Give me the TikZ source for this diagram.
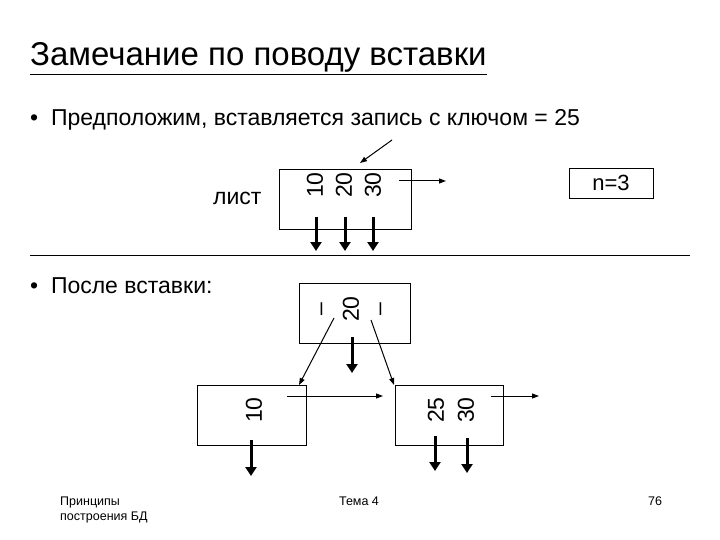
\documentclass[tikz,border=0pt]{standalone}
\usepackage{fontspec}
\setmainfont{Liberation Sans}
\usetikzlibrary{arrows.meta}
\begin{document}
\begin{tikzpicture}[x=1pt,y=-1pt,
  num/.style={rotate=90,font=\fontsize{23}{23}\selectfont,inner sep=0pt},
  thick arr/.style={line width=3pt,-{Triangle[length=9pt,width=11pt]}},
  thin arr/.style={line width=1pt,-{Triangle[length=7pt,width=5pt]}},
  lbl/.style={anchor=west,font=\fontsize{23}{23}\selectfont,inner sep=0pt}]
\useasboundingbox (0,0) rectangle (720,540);
\node[anchor=base west,inner sep=0pt,font=\fontsize{33}{33}\selectfont] (title) at (30,66) {\underline{Замечание по поводу вставки}};
\node[lbl] (b1) at (30,120) {•\ \ Предположим, вставляется запись с ключом = 25};
% top leaf
\draw[line width=0.8pt] (279,169) rectangle (411,229);
\node[lbl] (leaf) at (213,198) {лист};
\node[num] (t10) at (315,185) {10};
\node[num] (t20) at (344,185) {20};
\node[num] (t30) at (373,185) {30};
\coordinate (ins) at (392,140); \coordinate (insE) at (360,163);
\draw[thin arr] (ins) -- (insE);
\coordinate (r1a) at (399,181); \coordinate (r1b) at (446,181);
\draw[thin arr] (r1a) -- (r1b);
\foreach \x in {316,345,373}{\draw[thick arr] (\x,217) -- (\x,251);}
\draw[line width=0.8pt] (569,168) rectangle (653,198);
\node[font=\fontsize{22}{22}\selectfont] (n3) at (611,183) {n=3};
\coordinate (l1) at (30,255); \coordinate (l2) at (690,255);
\draw (l1) -- (l2);
\node[lbl] (b2) at (30,286) {•\ \ После вставки:};
% middle
\draw[line width=0.8pt] (299,283) rectangle (410,343);
\node[num] (m1) at (324,309) {–};
\node[num] (m20) at (351,309) {20};
\node[num] (m3) at (383,309) {–};
\draw[thick arr] (352,337) -- (352,373);
\draw[thin arr] (334,318) -- (299,385);
\draw[thin arr] (371,320) -- (394,385);
% left leaf
\draw[line width=0.8pt] (197,385) rectangle (306,445);
\node[num] (l10) at (254,410) {10};
\draw[thin arr] (287,396) -- (383,396);
\draw[thick arr] (251,440) -- (251,476);
% right leaf
\draw[line width=0.8pt] (395,385) rectangle (503,445);
\node[num] (r25) at (436,410) {25};
\node[num] (r30) at (466,410) {30};
\draw[thin arr] (491,396) -- (539,396);
\draw[thick arr] (435,436) -- (435,471);
\draw[thick arr] (467,438) -- (467,473);
% footer
\node[anchor=north west,align=left,inner sep=0pt,font=\fontsize{12.5}{15}\selectfont] (f1) at (60,497) {Принципы\\построения БД};
\node[anchor=north,inner sep=0pt,font=\fontsize{12.5}{15}\selectfont] (f2) at (359,497) {Тема 4};
\node[anchor=north,inner sep=0pt,font=\fontsize{12.5}{15}\selectfont] (f3) at (655,497) {76};
\end{tikzpicture}
\end{document}
